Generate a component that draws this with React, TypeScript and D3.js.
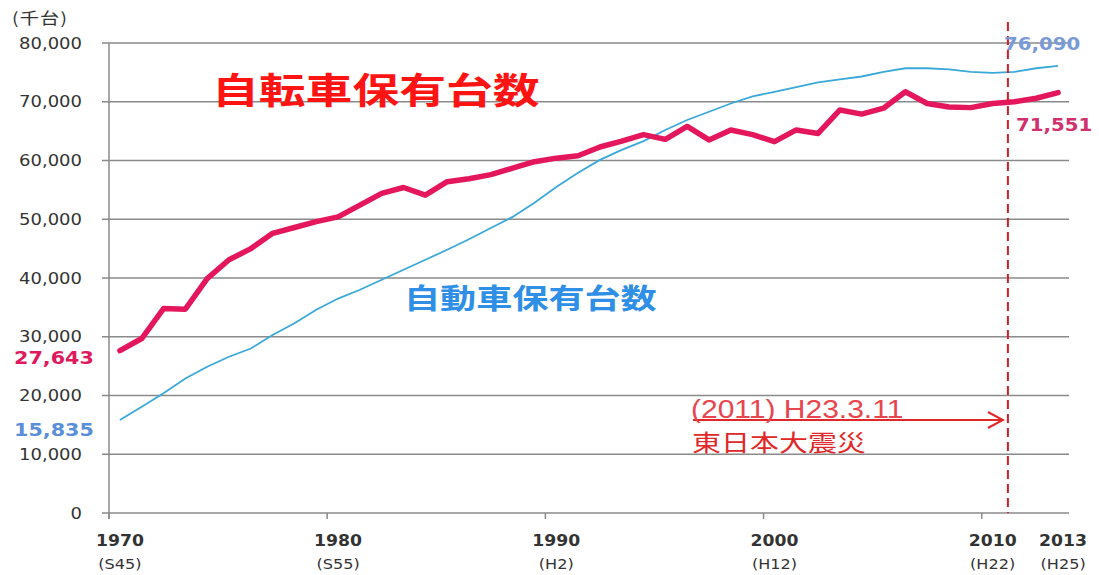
import { useMemo } from "react";
import type { ReactNode } from "react";
import * as d3 from "d3";

// 1970..2013 (thousand units)
const years = d3.range(1970, 2014);

const bicycles = [
  27643, 29700, 34800, 34700, 39900, 43100, 45000, 47600, 48600, 49600,
  50400, 52400, 54400, 55400, 54100, 56400, 56900, 57600, 58700, 59800,
  60400, 60800, 62300, 63300, 64400, 63600, 65800, 63500, 65200, 64400,
  63200, 65200, 64600, 68600, 67900, 68900, 71700, 69700, 69100, 69000,
  69700, 70000, 70600, 71551,
];

const cars = [
  15835, 18100, 20400, 22900, 24900, 26600, 28000, 30300, 32300, 34600,
  36500, 38000, 39700, 41400, 43100, 44800, 46600, 48500, 50400, 52800,
  55500, 57900, 60100, 61800, 63300, 65200, 66900, 68300, 69700, 70900,
  71700, 72500, 73300, 73800, 74300, 75100, 75700, 75700, 75500, 75100,
  74900, 75100, 75700, 76090,
];

const yTicks = [0, 10000, 20000, 30000, 40000, 50000, 60000, 70000, 80000];
const labelYears = [1970, 1980, 1990, 2000, 2010, 2013];
const eraLabels = ["(S45)", "(S55)", "(H2)", "(H12)", "(H22)", "(H25)"];
const tickYears = [1970, 1980, 1990, 2000, 2010];

const W = 1099;
const H = 575;
const FONT = "'DejaVu Sans', Verdana, sans-serif";
const JP = "'Noto Sans CJK JP', sans-serif";
const fmt = d3.format(",");

// the source image is stretched sideways, so text is widened with scaleX
function Wide({
  x,
  y,
  sx,
  anchor = "start",
  children,
  ...rest
}: {
  x: number;
  y: number;
  sx: number;
  anchor?: string;
  children: ReactNode;
  [k: string]: any;
}) {
  return (
    <text transform={`translate(${x},${y}) scale(${sx},1)`} textAnchor={anchor} {...rest}>
      {children}
    </text>
  );
}

export default function App() {
  const x = useMemo(
    () => d3.scaleBand<number>().domain(years).range([109, 1069]).padding(0),
    []
  );
  const y = useMemo(() => d3.scaleLinear().domain([0, 80000]).range([513, 43]), []);
  const cx = (yr: number) => (x(yr) ?? 0) + x.bandwidth() / 2;

  const line = d3
    .line<number>()
    .x((_, i) => cx(years[i]))
    .y((d) => y(d));

  const quake = (x(2011) ?? 0) + x.bandwidth() * 0.2;
  const left = x.range()[0];
  const right = x.range()[1];

  return (
    <div style={{ position: "fixed", left: 0, top: 0, background: "#fff" }}>
      <svg width={W} height={H} viewBox={`0 0 ${W} ${H}`}>
        <rect width={W} height={H} fill="#fff" />

        {/* grid */}
        {yTicks.map((t) => (
          <line
            key={t}
            x1={left - 7}
            x2={right}
            y1={y(t)}
            y2={y(t)}
            stroke="#8a8a8a"
            strokeWidth={1.5}
          />
        ))}
        <line x1={left} x2={left} y1={y(80000)} y2={y(0) + 6} stroke="#8a8a8a" strokeWidth={1.5} />
        {tickYears.map((yr) => (
          <line
            key={yr}
            x1={x(yr)}
            x2={x(yr)}
            y1={y(0)}
            y2={y(0) + 6}
            stroke="#8a8a8a"
            strokeWidth={1.5}
          />
        ))}

        {/* y labels */}
        {yTicks.map((t) => (
          <Wide
            key={t}
            x={82}
            y={y(t) + 5.5}
            sx={1.2}
            anchor="end"
            fontFamily={FONT}
            fontSize={15}
            fill="#333"
          >
            {fmt(t)}
          </Wide>
        ))}
        <Wide x={12} y={24} sx={1.2} fontFamily={JP} fontSize={16} fill="#333" letterSpacing={1}>
          (千台)
        </Wide>

        {/* x labels */}
        {labelYears.map((yr, i) => {
          const px = cx(yr) + (yr === 2013 ? 5 : 0);
          return (
            <g key={yr}>
              <Wide
                x={px}
                y={546}
                sx={1.15}
                anchor="middle"
                fontFamily={FONT}
                fontSize={15}
                fontWeight="bold"
                fill="#333"
              >
                {yr}
              </Wide>
              <Wide
                x={px}
                y={569}
                sx={1.15}
                anchor="middle"
                fontFamily={FONT}
                fontSize={14}
                fill="#333"
              >
                {eraLabels[i]}
              </Wide>
            </g>
          );
        })}

        {/* series */}
        <path d={line(cars) ?? ""} fill="none" stroke="#3aa8d8" strokeWidth={1.8} />
        <path
          d={line(bicycles) ?? ""}
          fill="none"
          stroke="#e5175c"
          strokeWidth={5.5}
          strokeLinejoin="round"
          strokeLinecap="round"
        />

        {/* quake marker */}
        <line
          x1={quake}
          x2={quake}
          y1={22}
          y2={y(0)}
          stroke="#d81c24"
          strokeWidth={2}
          strokeDasharray="9,5"
        />
        <line x1={693} x2={quake - 5} y1={420} y2={420} stroke="#e02828" strokeWidth={2} />
        <polyline
          points={`${quake - 20},${412} ${quake - 5},${420} ${quake - 20},${428}`}
          fill="none"
          stroke="#e02828"
          strokeWidth={2}
        />
        <Wide x={691} y={418} sx={1.2} fontFamily="'Liberation Sans', Arial, sans-serif" fontSize={25} fill="#e8464e">
          (2011) H23.3.11
        </Wide>
        <Wide x={692} y={451} sx={1.26} fontFamily={JP} fontSize={23} fill="#e02828">
          東日本大震災
        </Wide>

        {/* series titles */}
        <Wide x={212} y={104} sx={1.3} fontFamily={JP} fontSize={36} fontWeight="bold" fill="#ff1414">
          自転車保有台数
        </Wide>
        <Wide x={404} y={309} sx={1.29} fontFamily={JP} fontSize={28} fontWeight="bold" fill="#2f8fe6">
          自動車保有台数
        </Wide>

        {/* end values */}
        <Wide x={14} y={y(bicycles[0]) + 13} sx={1.15} fontFamily={FONT} fontSize={18} fontWeight="bold" fill="#e0185e">
          {fmt(bicycles[0])}
        </Wide>
        <Wide x={14} y={y(cars[0]) + 16} sx={1.15} fontFamily={FONT} fontSize={18} fontWeight="bold" fill="#5a8ed8">
          {fmt(cars[0])}
        </Wide>
        <Wide x={1004} y={y(cars[43]) - 16} sx={1.1} fontFamily={FONT} fontSize={18} fontWeight="bold" fill="#7a9ad6">
          {fmt(cars[43])}
        </Wide>
        <Wide x={1016} y={y(bicycles[43]) + 38} sx={1.1} fontFamily={FONT} fontSize={18} fontWeight="bold" fill="#d0306c">
          {fmt(bicycles[43])}
        </Wide>
      </svg>
    </div>
  );
}
